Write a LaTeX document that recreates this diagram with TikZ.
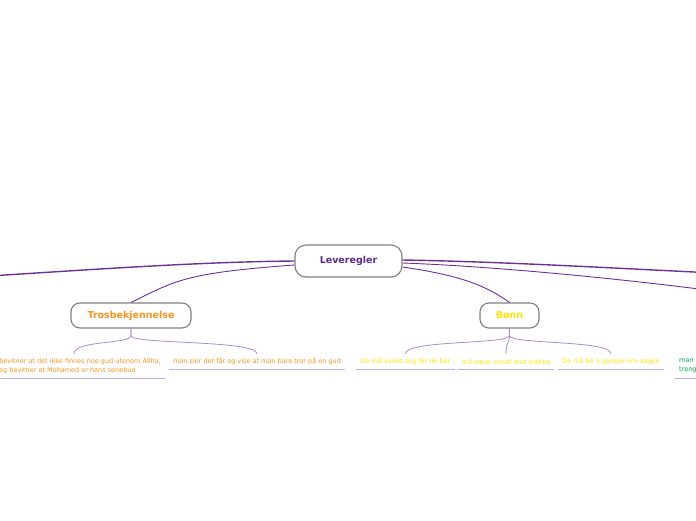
\documentclass[tikz,border=0pt]{standalone}
\usepackage{fontspec}
\setmainfont{DejaVu Sans}
\usetikzlibrary{positioning,calc}
\definecolor{levpurple}{RGB}{92,45,145}
\definecolor{linepurple}{RGB}{108,48,156}
\definecolor{branchpurple}{RGB}{176,136,210}
\definecolor{leafpurple}{RGB}{200,172,226}
\definecolor{nodegray}{RGB}{128,128,128}
\definecolor{trosorange}{RGB}{247,148,30}
\definecolor{bonnyellow}{RGB}{255,228,0}
\definecolor{mangreen}{RGB}{0,166,81}

\begin{document}
\begin{tikzpicture}[x=1pt, y=-1pt,
					topic/.style={draw=nodegray, fill=white, line width=1.1pt, rounded corners=9pt, font=\fontsize{9.5}{11}\selectfont\bfseries},
					leaf/.style={font=\fontsize{6.5}{9}\selectfont, inner xsep=4pt, inner ysep=0pt, align=left},
					mainline/.style={linepurple, line width=1.4pt},
					subline/.style={linepurple, line width=0.9pt},
					branch/.style={branchpurple, line width=0.8pt},
					underline/.style={leafpurple, line width=1.1pt}]
					
					\useasboundingbox (0,0) rectangle (696,520);
					\clip (0,0) rectangle (696,520);
					
					% hovedemne og grener
					\node[topic, text=levpurple, minimum width=107pt, minimum height=32pt, rounded corners=11pt] (lev) at (348.5,261) {Leveregler};
					\node[topic, text=trosorange, minimum width=120pt, minimum height=25pt] (tros) at (131,315.5) {Trosbekjennelse};
					\node[topic, text=bonnyellow, minimum width=59pt, minimum height=25pt] (bonn) at (509.5,315.5) {Bønn};
					
					\coordinate (offL) at (-60,279);
					\coordinate (offR) at (760,275);
					\coordinate (offRR) at (750,296);
					
					\draw[mainline] (lev.west) .. controls +(-110,1) and +(120,-7) .. (offL);
					\draw[mainline] ([yshift=1pt]lev.east) .. controls +(120,2) and +(-100,-4) .. (offR);
					\draw[subline] ([yshift=-2pt]lev.east) .. controls +(110,4) and +(-80,-12) .. (offRR);
					\draw[subline] ([yshift=-4pt]lev.west) .. controls +(-110,8) and +(45,-22) .. (tros.north);
					\draw[subline] ([yshift=-6pt]lev.east) .. controls +(55,8) and +(-25,-18) .. (bonn.north);
					
					% blader
					\node[leaf, text=trosorange, minimum height=24pt] (jeg) at (74,366) {Jeg bevitner at det ikke finnes noe gud utenom Allha,\\og jeg bevitner at Mohamed er hans senebud};
					\node[leaf, text=trosorange, minimum height=15pt] (gud) at (257,361.5) {man sier det får og vise at man bare tror på en gud};
					\node[leaf, text=bonnyellow, minimum height=15pt] (vaske) at (405.5,361.5) {De må vaske seg før de ber};
					\node[leaf, text=bonnyellow, minimum height=15pt] (mekka) at (506,361.5) {må være vendt mot mekka};
					\node[leaf, text=bonnyellow, minimum height=15pt] (ganger) at (611,361.5) {De må be 5 ganger om dagen};
					\node[leaf, text=mangreen, minimum height=24pt, anchor=north west] (man) at (675,354) {man\\treng};
					
					\foreach \leaf in {jeg,gud}
					\draw[branch] (tros.south) -- ++(0,7) .. controls +(0,9) and +(0,-14) .. (\leaf.north);
					\foreach \leaf in {vaske,mekka,ganger}
					\draw[branch] (bonn.south) -- ++(0,7) .. controls +(0,9) and +(0,-14) .. (\leaf.north);
					
					\foreach \leaf in {jeg,gud,vaske,mekka,ganger,man}
					\draw[underline] (\leaf.south west) -- (\leaf.south east);
				\end{tikzpicture}
\end{document}
